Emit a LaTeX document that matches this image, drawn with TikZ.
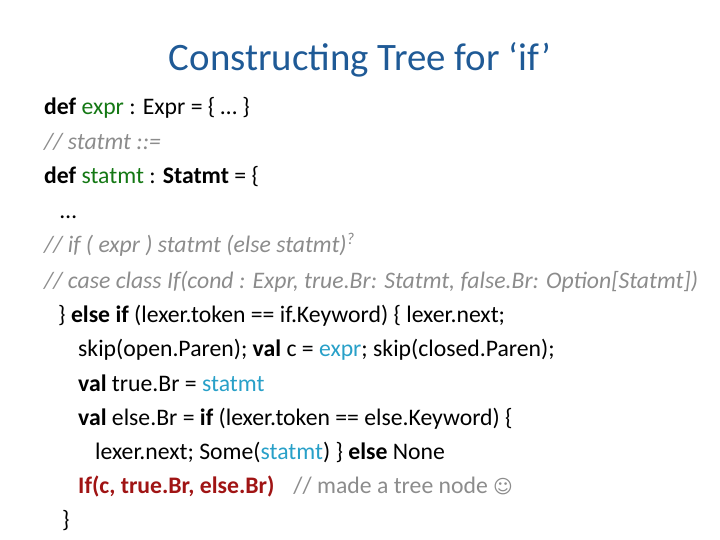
\documentclass[tikz,border=0pt]{standalone}
\usepackage{fontspec}
\setmainfont{Carlito}
\newfontfamily\dejavu{DejaVu Sans}
\definecolor{ttl}{RGB}{31,90,150}
\definecolor{grn}{RGB}{20,120,20}
\definecolor{cyn}{RGB}{40,160,200}
\definecolor{dred}{RGB}{160,20,20}
\definecolor{cmt}{RGB}{140,140,140}
\begin{document}
\begin{tikzpicture}[x=1bp,y=-1bp,
  ln/.style={anchor=base west,inner sep=0pt,font=\fontsize{23.8}{28}\selectfont}]
\useasboundingbox (0,0) rectangle (720,540);
\node[font=\fontsize{39}{46}\selectfont,text=ttl,inner sep=0pt] (title) at (360,60) {Constructing Tree for ‘if’};
\node[ln] (l1) at (44,115) {\textbf{def} \textcolor{grn}{expr} : Expr = \{ … \}};
\node[ln,text=cmt] (l2) at (44,150) {\itshape // statmt ::=};
\node[ln] (l3) at (44,184) {\textbf{def} \textcolor{grn}{statmt} : \textbf{Statmt} = \{};
\node[ln] (l4) at (60,219) {…};
\node[ln,text=cmt] (l5) at (44,253) {\itshape // if ( expr ) statmt (else statmt)\textsuperscript{?}};
\node[ln,text=cmt] (l6) at (44,288) {\itshape // case class If(cond : Expr, true.Br: Statmt, false.Br: Option[Statmt])};
\node[ln] (l7) at (58,322) {\} \textbf{else if} (lexer.token == if.Keyword) \{ lexer.next;};
\node[ln] (l8) at (78,356) {skip(open.Paren); \textbf{val} c = \textcolor{cyn}{expr}; skip(closed.Paren);};
\node[ln] (l9) at (78,391) {\textbf{val} true.Br = \textcolor{cyn}{statmt}};
\node[ln] (l10) at (78,425) {\textbf{val} else.Br = \textbf{if} (lexer.token == else.Keyword) \{};
\node[ln] (l11) at (95,459) {lexer.next; Some(\textcolor{cyn}{statmt}) \} \textbf{else} None};
\node[ln] (l12) at (78,493) {\textcolor{dred}{\textbf{If(c, true.Br, else.Br)}}\hspace{0.8em}\textcolor{cmt}{// made a tree node {\dejavu\fontsize{19}{22}\selectfont ☺}}};
\node[ln] (l13) at (62,527) {\}};
\end{tikzpicture}
\end{document}
